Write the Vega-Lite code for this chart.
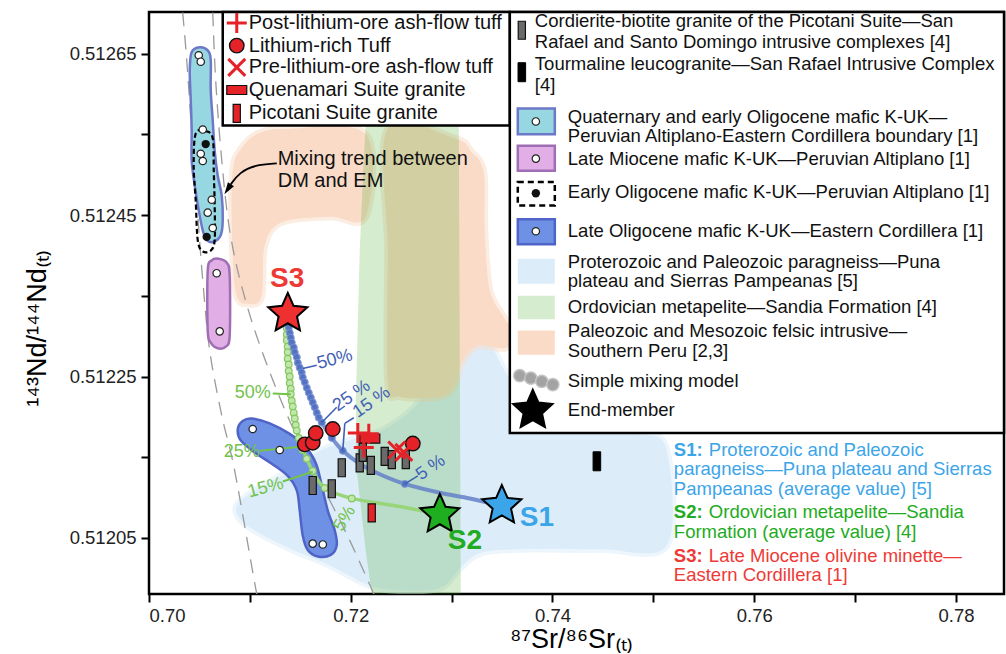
{
  "$schema": "https://vega.github.io/schema/vega-lite/v6.json",
  "width": 855,
  "height": 582,
  "autosize": {"type": "none"},
  "padding": {"left": 149, "top": 12, "right": 2, "bottom": 60},
  "background": "white",
  "config": {
    "font": "Liberation Sans",
    "view": {"stroke": "black", "strokeWidth": 2.5},
    "axis": {
      "domain": false, "grid": false, "ticks": true,
      "tickColor": "black", "tickWidth": 2, "tickSize": 8,
      "labelFont": "Liberation Sans", "labelFontSize": 18.5, "labelColor": "#222222", "labelOverlap": false,
      "titleFont": "Liberation Sans", "titleFontSize": 27, "titleFontWeight": "normal", "titleColor": "black"
    },
    "text": {"font": "Liberation Sans"}
  },
  "datasets": {
    "regions": [
      {"shape": "paragneiss", "i": 1, "x": 0.70870, "y": 0.512090},
      {"shape": "paragneiss", "i": 2, "x": 0.71048, "y": 0.512109},
      {"shape": "paragneiss", "i": 3, "x": 0.71395, "y": 0.512133},
      {"shape": "paragneiss", "i": 4, "x": 0.71693, "y": 0.512158},
      {"shape": "paragneiss", "i": 5, "x": 0.71990, "y": 0.512171},
      {"shape": "paragneiss", "i": 6, "x": 0.72337, "y": 0.512185},
      {"shape": "paragneiss", "i": 7, "x": 0.72684, "y": 0.512220},
      {"shape": "paragneiss", "i": 8, "x": 0.72883, "y": 0.512282},
      {"shape": "paragneiss", "i": 9, "x": 0.73101, "y": 0.512307},
      {"shape": "paragneiss", "i": 10, "x": 0.73329, "y": 0.512301},
      {"shape": "paragneiss", "i": 11, "x": 0.73527, "y": 0.512257},
      {"shape": "paragneiss", "i": 12, "x": 0.73775, "y": 0.512214},
      {"shape": "paragneiss", "i": 13, "x": 0.74270, "y": 0.512189},
      {"shape": "paragneiss", "i": 14, "x": 0.74866, "y": 0.512180},
      {"shape": "paragneiss", "i": 15, "x": 0.75134, "y": 0.512158},
      {"shape": "paragneiss", "i": 16, "x": 0.75134, "y": 0.512041},
      {"shape": "paragneiss", "i": 17, "x": 0.74469, "y": 0.512036},
      {"shape": "paragneiss", "i": 18, "x": 0.73676, "y": 0.512036},
      {"shape": "paragneiss", "i": 19, "x": 0.73280, "y": 0.512031},
      {"shape": "paragneiss", "i": 20, "x": 0.73081, "y": 0.512012},
      {"shape": "paragneiss", "i": 21, "x": 0.72883, "y": 0.511988},
      {"shape": "paragneiss", "i": 22, "x": 0.72486, "y": 0.511985},
      {"shape": "paragneiss", "i": 23, "x": 0.72189, "y": 0.511991},
      {"shape": "paragneiss", "i": 24, "x": 0.71792, "y": 0.512016},
      {"shape": "paragneiss", "i": 25, "x": 0.71395, "y": 0.512037},
      {"shape": "paragneiss", "i": 26, "x": 0.71048, "y": 0.512059},
      {"shape": "paragneiss", "i": 27, "x": 0.70899, "y": 0.512074},
      {"shape": "felsicWest", "i": 1, "x": 0.70899, "y": 0.512530},
      {"shape": "felsicWest", "i": 2, "x": 0.71078, "y": 0.512551},
      {"shape": "felsicWest", "i": 3, "x": 0.71395, "y": 0.512557},
      {"shape": "felsicWest", "i": 4, "x": 0.72149, "y": 0.512550},
      {"shape": "felsicWest", "i": 5, "x": 0.72149, "y": 0.512448},
      {"shape": "felsicWest", "i": 6, "x": 0.71792, "y": 0.512448},
      {"shape": "felsicWest", "i": 7, "x": 0.71316, "y": 0.512441},
      {"shape": "felsicWest", "i": 8, "x": 0.71147, "y": 0.512412},
      {"shape": "felsicWest", "i": 9, "x": 0.71118, "y": 0.512350},
      {"shape": "felsicWest", "i": 10, "x": 0.70999, "y": 0.512340},
      {"shape": "felsicWest", "i": 11, "x": 0.70860, "y": 0.512354},
      {"shape": "felsicWest", "i": 12, "x": 0.70820, "y": 0.512443},
      {"shape": "felsicWest", "i": 13, "x": 0.70830, "y": 0.512505},
      {"shape": "felsicEast", "i": 1, "x": 0.72367, "y": 0.512557},
      {"shape": "felsicEast", "i": 2, "x": 0.73032, "y": 0.512545},
      {"shape": "felsicEast", "i": 3, "x": 0.73200, "y": 0.512528},
      {"shape": "felsicEast", "i": 4, "x": 0.73319, "y": 0.512503},
      {"shape": "felsicEast", "i": 5, "x": 0.73329, "y": 0.512431},
      {"shape": "felsicEast", "i": 6, "x": 0.73379, "y": 0.512357},
      {"shape": "felsicEast", "i": 7, "x": 0.73527, "y": 0.512322},
      {"shape": "felsicEast", "i": 8, "x": 0.73627, "y": 0.512301},
      {"shape": "felsicEast", "i": 9, "x": 0.73527, "y": 0.512285},
      {"shape": "felsicEast", "i": 10, "x": 0.73260, "y": 0.512288},
      {"shape": "felsicEast", "i": 11, "x": 0.73101, "y": 0.512267},
      {"shape": "felsicEast", "i": 12, "x": 0.73032, "y": 0.512239},
      {"shape": "felsicEast", "i": 13, "x": 0.72883, "y": 0.512225},
      {"shape": "felsicEast", "i": 14, "x": 0.72486, "y": 0.512225},
      {"shape": "felsicEast", "i": 15, "x": 0.72367, "y": 0.512243},
      {"shape": "felsicEast", "i": 16, "x": 0.72367, "y": 0.512406},
      {"shape": "metapelite", "i": 1, "x": 0.72149, "y": 0.512565},
      {"shape": "metapelite", "i": 2, "x": 0.72208, "y": 0.512574},
      {"shape": "metapelite", "i": 3, "x": 0.73012, "y": 0.512574},
      {"shape": "metapelite", "i": 4, "x": 0.73071, "y": 0.512565},
      {"shape": "metapelite", "i": 5, "x": 0.73091, "y": 0.511972},
      {"shape": "metapelite", "i": 6, "x": 0.72218, "y": 0.511972},
      {"shape": "metapelite", "i": 7, "x": 0.72149, "y": 0.512034},
      {"shape": "metapelite", "i": 8, "x": 0.72060, "y": 0.512133},
      {"shape": "metapelite", "i": 9, "x": 0.72050, "y": 0.512220},
      {"shape": "metapelite", "i": 10, "x": 0.72089, "y": 0.512406},
      {"shape": "metapelite", "i": 11, "x": 0.72129, "y": 0.512518}
    ],
    "capsules": [
      {"shape": "quat", "i": 1, "x": 0.70503, "y": 0.512658},
      {"shape": "quat", "i": 2, "x": 0.70582, "y": 0.512654},
      {"shape": "quat", "i": 3, "x": 0.70612, "y": 0.512642},
      {"shape": "quat", "i": 4, "x": 0.70612, "y": 0.512605},
      {"shape": "quat", "i": 5, "x": 0.70632, "y": 0.512567},
      {"shape": "quat", "i": 6, "x": 0.70651, "y": 0.512530},
      {"shape": "quat", "i": 7, "x": 0.70681, "y": 0.512499},
      {"shape": "quat", "i": 8, "x": 0.70721, "y": 0.512474},
      {"shape": "quat", "i": 9, "x": 0.70731, "y": 0.512443},
      {"shape": "quat", "i": 10, "x": 0.70711, "y": 0.512425},
      {"shape": "quat", "i": 11, "x": 0.70642, "y": 0.512417},
      {"shape": "quat", "i": 12, "x": 0.70572, "y": 0.512419},
      {"shape": "quat", "i": 13, "x": 0.70533, "y": 0.512431},
      {"shape": "quat", "i": 14, "x": 0.70493, "y": 0.512456},
      {"shape": "quat", "i": 15, "x": 0.70453, "y": 0.512487},
      {"shape": "quat", "i": 16, "x": 0.70423, "y": 0.512518},
      {"shape": "quat", "i": 17, "x": 0.70423, "y": 0.512555},
      {"shape": "quat", "i": 18, "x": 0.70414, "y": 0.512592},
      {"shape": "quat", "i": 19, "x": 0.70404, "y": 0.512629},
      {"shape": "quat", "i": 20, "x": 0.70423, "y": 0.512652},
      {"shape": "miocene", "i": 1, "x": 0.70691, "y": 0.512396},
      {"shape": "miocene", "i": 2, "x": 0.70771, "y": 0.512391},
      {"shape": "miocene", "i": 3, "x": 0.70800, "y": 0.512375},
      {"shape": "miocene", "i": 4, "x": 0.70800, "y": 0.512301},
      {"shape": "miocene", "i": 5, "x": 0.70761, "y": 0.512287},
      {"shape": "miocene", "i": 6, "x": 0.70681, "y": 0.512285},
      {"shape": "miocene", "i": 7, "x": 0.70612, "y": 0.512292},
      {"shape": "miocene", "i": 8, "x": 0.70582, "y": 0.512307},
      {"shape": "miocene", "i": 9, "x": 0.70582, "y": 0.512381},
      {"shape": "miocene", "i": 10, "x": 0.70622, "y": 0.512394},
      {"shape": "oligoLate", "i": 1, "x": 0.70880, "y": 0.512185},
      {"shape": "oligoLate", "i": 2, "x": 0.70929, "y": 0.512195},
      {"shape": "oligoLate", "i": 3, "x": 0.71018, "y": 0.512198},
      {"shape": "oligoLate", "i": 4, "x": 0.71197, "y": 0.512192},
      {"shape": "oligoLate", "i": 5, "x": 0.71395, "y": 0.512179},
      {"shape": "oligoLate", "i": 6, "x": 0.71544, "y": 0.512164},
      {"shape": "oligoLate", "i": 7, "x": 0.71653, "y": 0.512143},
      {"shape": "oligoLate", "i": 8, "x": 0.71713, "y": 0.512115},
      {"shape": "oligoLate", "i": 9, "x": 0.71772, "y": 0.512084},
      {"shape": "oligoLate", "i": 10, "x": 0.71842, "y": 0.512059},
      {"shape": "oligoLate", "i": 11, "x": 0.71861, "y": 0.512041},
      {"shape": "oligoLate", "i": 12, "x": 0.71802, "y": 0.512029},
      {"shape": "oligoLate", "i": 13, "x": 0.71673, "y": 0.512027},
      {"shape": "oligoLate", "i": 14, "x": 0.71574, "y": 0.512035},
      {"shape": "oligoLate", "i": 15, "x": 0.71524, "y": 0.512053},
      {"shape": "oligoLate", "i": 16, "x": 0.71494, "y": 0.512084},
      {"shape": "oligoLate", "i": 17, "x": 0.71465, "y": 0.512109},
      {"shape": "oligoLate", "i": 18, "x": 0.71375, "y": 0.512127},
      {"shape": "oligoLate", "i": 19, "x": 0.71217, "y": 0.512142},
      {"shape": "oligoLate", "i": 20, "x": 0.71048, "y": 0.512156},
      {"shape": "oligoLate", "i": 21, "x": 0.70909, "y": 0.512171},
      {"shape": "oligoEarly", "i": 1, "x": 0.70463, "y": 0.512551},
      {"shape": "oligoEarly", "i": 2, "x": 0.70562, "y": 0.512554},
      {"shape": "oligoEarly", "i": 3, "x": 0.70632, "y": 0.512545},
      {"shape": "oligoEarly", "i": 4, "x": 0.70642, "y": 0.512505},
      {"shape": "oligoEarly", "i": 5, "x": 0.70651, "y": 0.512462},
      {"shape": "oligoEarly", "i": 6, "x": 0.70651, "y": 0.512419},
      {"shape": "oligoEarly", "i": 7, "x": 0.70612, "y": 0.512406},
      {"shape": "oligoEarly", "i": 8, "x": 0.70533, "y": 0.512405},
      {"shape": "oligoEarly", "i": 9, "x": 0.70483, "y": 0.512419},
      {"shape": "oligoEarly", "i": 10, "x": 0.70463, "y": 0.512468},
      {"shape": "oligoEarly", "i": 11, "x": 0.70443, "y": 0.512511}
    ],
    "lines": [
      {"shape": "trend1", "i": 1, "x": 0.70334, "y": 0.512701},
      {"shape": "trend1", "i": 2, "x": 0.70374, "y": 0.512642},
      {"shape": "trend1", "i": 3, "x": 0.70423, "y": 0.512555},
      {"shape": "trend1", "i": 4, "x": 0.70473, "y": 0.512468},
      {"shape": "trend1", "i": 5, "x": 0.70533, "y": 0.512369},
      {"shape": "trend1", "i": 6, "x": 0.70602, "y": 0.512282},
      {"shape": "trend1", "i": 7, "x": 0.70721, "y": 0.512202},
      {"shape": "trend1", "i": 8, "x": 0.70850, "y": 0.512133},
      {"shape": "trend1", "i": 9, "x": 0.71048, "y": 0.511994},
      {"shape": "trend1", "i": 10, "x": 0.71078, "y": 0.511978},
      {"shape": "trend2", "i": 1, "x": 0.70632, "y": 0.512701},
      {"shape": "trend2", "i": 2, "x": 0.70661, "y": 0.512617},
      {"shape": "trend2", "i": 3, "x": 0.70721, "y": 0.512518},
      {"shape": "trend2", "i": 4, "x": 0.70800, "y": 0.512431},
      {"shape": "trend2", "i": 5, "x": 0.70929, "y": 0.512357},
      {"shape": "trend2", "i": 6, "x": 0.71118, "y": 0.512282},
      {"shape": "trend2", "i": 7, "x": 0.71395, "y": 0.512195},
      {"shape": "trend2", "i": 8, "x": 0.71693, "y": 0.512121},
      {"shape": "trend2", "i": 9, "x": 0.71990, "y": 0.512047},
      {"shape": "trend2", "i": 10, "x": 0.72238, "y": 0.511978},
      {"shape": "arrow", "i": 1, "x": 0.71267, "y": 0.512514},
      {"shape": "arrow", "i": 2, "x": 0.71048, "y": 0.512512},
      {"shape": "arrow", "i": 3, "x": 0.70899, "y": 0.512503},
      {"shape": "arrow", "i": 4, "x": 0.70810, "y": 0.512488},
      {"shape": "S3-S1", "i": 1, "x": 0.71375, "y": 0.512328},
      {"shape": "S3-S1", "i": 2, "x": 0.71435, "y": 0.512286},
      {"shape": "S3-S1", "i": 3, "x": 0.71494, "y": 0.512261},
      {"shape": "S3-S1", "i": 4, "x": 0.71564, "y": 0.512236},
      {"shape": "S3-S1", "i": 5, "x": 0.71623, "y": 0.512218},
      {"shape": "S3-S1", "i": 6, "x": 0.71713, "y": 0.512193},
      {"shape": "S3-S1", "i": 7, "x": 0.71812, "y": 0.512174},
      {"shape": "S3-S1", "i": 8, "x": 0.71921, "y": 0.512158},
      {"shape": "S3-S1", "i": 9, "x": 0.72089, "y": 0.512142},
      {"shape": "S3-S1", "i": 10, "x": 0.72288, "y": 0.512129},
      {"shape": "S3-S1", "i": 11, "x": 0.72536, "y": 0.512117},
      {"shape": "S3-S1", "i": 12, "x": 0.72883, "y": 0.512106},
      {"shape": "S3-S1", "i": 13, "x": 0.73180, "y": 0.512099},
      {"shape": "S3-S1", "i": 14, "x": 0.73498, "y": 0.512090},
      {"shape": "S3-S2", "i": 1, "x": 0.71375, "y": 0.512326},
      {"shape": "S3-S2", "i": 2, "x": 0.71366, "y": 0.512307},
      {"shape": "S3-S2", "i": 3, "x": 0.71375, "y": 0.512280},
      {"shape": "S3-S2", "i": 4, "x": 0.71395, "y": 0.512250},
      {"shape": "S3-S2", "i": 5, "x": 0.71415, "y": 0.512220},
      {"shape": "S3-S2", "i": 6, "x": 0.71445, "y": 0.512198},
      {"shape": "S3-S2", "i": 7, "x": 0.71465, "y": 0.512183},
      {"shape": "S3-S2", "i": 8, "x": 0.71504, "y": 0.512167},
      {"shape": "S3-S2", "i": 9, "x": 0.71564, "y": 0.512148},
      {"shape": "S3-S2", "i": 10, "x": 0.71623, "y": 0.512133},
      {"shape": "S3-S2", "i": 11, "x": 0.71742, "y": 0.512112},
      {"shape": "S3-S2", "i": 12, "x": 0.72010, "y": 0.512099},
      {"shape": "S3-S2", "i": 13, "x": 0.72486, "y": 0.512089},
      {"shape": "S3-S2", "i": 14, "x": 0.72883, "y": 0.512079}
    ],
    "mixdots": [
      {"model": "S3-S1", "x": 0.71375, "y": 0.512317},
      {"model": "S3-S1", "x": 0.71385, "y": 0.512311},
      {"model": "S3-S1", "x": 0.71395, "y": 0.512304},
      {"model": "S3-S1", "x": 0.71405, "y": 0.512298},
      {"model": "S3-S1", "x": 0.71415, "y": 0.512292},
      {"model": "S3-S1", "x": 0.71435, "y": 0.512286},
      {"model": "S3-S1", "x": 0.71445, "y": 0.512280},
      {"model": "S3-S1", "x": 0.71465, "y": 0.512274},
      {"model": "S3-S1", "x": 0.71475, "y": 0.512267},
      {"model": "S3-S1", "x": 0.71494, "y": 0.512261},
      {"model": "S3-S1", "x": 0.71514, "y": 0.512255},
      {"model": "S3-S1", "x": 0.71524, "y": 0.512249},
      {"model": "S3-S1", "x": 0.71544, "y": 0.512243},
      {"model": "S3-S1", "x": 0.71564, "y": 0.512236},
      {"model": "S3-S1", "x": 0.71584, "y": 0.512230},
      {"model": "S3-S1", "x": 0.71604, "y": 0.512224},
      {"model": "S3-S1", "x": 0.71623, "y": 0.512218},
      {"model": "S3-S1", "x": 0.71643, "y": 0.512212},
      {"model": "S3-S1", "x": 0.71663, "y": 0.512205},
      {"model": "S3-S1", "x": 0.71683, "y": 0.512199},
      {"model": "S3-S1", "x": 0.71713, "y": 0.512193},
      {"model": "S3-S1", "x": 0.71812, "y": 0.512174},
      {"model": "S3-S1", "x": 0.71921, "y": 0.512158},
      {"model": "S3-S1", "x": 0.72536, "y": 0.512117},
      {"model": "S3-S2", "x": 0.71366, "y": 0.512317},
      {"model": "S3-S2", "x": 0.71366, "y": 0.512310},
      {"model": "S3-S2", "x": 0.71366, "y": 0.512302},
      {"model": "S3-S2", "x": 0.71366, "y": 0.512295},
      {"model": "S3-S2", "x": 0.71375, "y": 0.512287},
      {"model": "S3-S2", "x": 0.71375, "y": 0.512280},
      {"model": "S3-S2", "x": 0.71375, "y": 0.512272},
      {"model": "S3-S2", "x": 0.71385, "y": 0.512265},
      {"model": "S3-S2", "x": 0.71385, "y": 0.512257},
      {"model": "S3-S2", "x": 0.71395, "y": 0.512250},
      {"model": "S3-S2", "x": 0.71395, "y": 0.512242},
      {"model": "S3-S2", "x": 0.71405, "y": 0.512235},
      {"model": "S3-S2", "x": 0.71405, "y": 0.512228},
      {"model": "S3-S2", "x": 0.71415, "y": 0.512220},
      {"model": "S3-S2", "x": 0.71425, "y": 0.512213},
      {"model": "S3-S2", "x": 0.71435, "y": 0.512205},
      {"model": "S3-S2", "x": 0.71445, "y": 0.512198},
      {"model": "S3-S2", "x": 0.71455, "y": 0.512190},
      {"model": "S3-S2", "x": 0.71465, "y": 0.512183},
      {"model": "S3-S2", "x": 0.71485, "y": 0.512174},
      {"model": "S3-S2", "x": 0.71504, "y": 0.512167},
      {"model": "S3-S2", "x": 0.71524, "y": 0.512159},
      {"model": "S3-S2", "x": 0.71564, "y": 0.512148},
      {"model": "S3-S2", "x": 0.71623, "y": 0.512133},
      {"model": "S3-S2", "x": 0.71742, "y": 0.512112},
      {"model": "S3-S2", "x": 0.72010, "y": 0.512099},
      {"model": "key", "x": 0.73676, "y": 0.512251},
      {"model": "key", "x": 0.73785, "y": 0.512248},
      {"model": "key", "x": 0.73894, "y": 0.512244},
      {"model": "key", "x": 0.74003, "y": 0.512240}
    ],
    "points": [
      {"group": "kukOpen", "x": 0.70493, "y": 0.512648},
      {"group": "kukOpen", "x": 0.70513, "y": 0.512640},
      {"group": "kukOpen", "x": 0.70533, "y": 0.512556},
      {"group": "kukOpen", "x": 0.70513, "y": 0.512526},
      {"group": "kukOpen", "x": 0.70533, "y": 0.512517},
      {"group": "kukOpen", "x": 0.70622, "y": 0.512469},
      {"group": "kukOpen", "x": 0.70582, "y": 0.512453},
      {"group": "kukOpen", "x": 0.70632, "y": 0.512434},
      {"group": "kukOpen", "x": 0.70671, "y": 0.512378},
      {"group": "kukOpen", "x": 0.70701, "y": 0.512306},
      {"group": "kukOpen", "x": 0.71028, "y": 0.512185},
      {"group": "kukOpen", "x": 0.71296, "y": 0.512159},
      {"group": "kukOpen", "x": 0.71623, "y": 0.512043},
      {"group": "kukOpen", "x": 0.71723, "y": 0.512042},
      {"group": "kukOpen", "x": 0.73835, "y": 0.512566},
      {"group": "kukOpen", "x": 0.73835, "y": 0.512520},
      {"group": "kukOpen", "x": 0.73835, "y": 0.512430},
      {"group": "kukSolid", "x": 0.70562, "y": 0.512538},
      {"group": "kukSolid", "x": 0.70572, "y": 0.512423},
      {"group": "kukSolid", "x": 0.73835, "y": 0.512477},
      {"group": "cordierite", "x": 0.71623, "y": 0.512115},
      {"group": "cordierite", "x": 0.71812, "y": 0.512111},
      {"group": "cordierite", "x": 0.71911, "y": 0.512137},
      {"group": "cordierite", "x": 0.72089, "y": 0.512143},
      {"group": "cordierite", "x": 0.72119, "y": 0.512156},
      {"group": "cordierite", "x": 0.72199, "y": 0.512140},
      {"group": "cordierite", "x": 0.72337, "y": 0.512151},
      {"group": "cordierite", "x": 0.72407, "y": 0.512147},
      {"group": "cordierite", "x": 0.72546, "y": 0.512147},
      {"group": "cordierite", "x": 0.73696, "y": 0.512679},
      {"group": "tourmaline", "x": 0.74440, "y": 0.512145},
      {"group": "tourmaline", "x": 0.73696, "y": 0.512627},
      {"group": "picotani", "x": 0.72208, "y": 0.512081},
      {"group": "picotani", "x": 0.70870, "y": 0.512576},
      {"group": "quenamari", "x": 0.72189, "y": 0.512173},
      {"group": "quenamari", "x": 0.70870, "y": 0.512605},
      {"group": "liTuff", "x": 0.71544, "y": 0.512166},
      {"group": "liTuff", "x": 0.71623, "y": 0.512168},
      {"group": "liTuff", "x": 0.71653, "y": 0.512180},
      {"group": "liTuff", "x": 0.71822, "y": 0.512185},
      {"group": "liTuff", "x": 0.72615, "y": 0.512167},
      {"group": "liTuff", "x": 0.70870, "y": 0.512660},
      {"group": "postOre", "x": 0.72070, "y": 0.512180},
      {"group": "postOre", "x": 0.72179, "y": 0.512179},
      {"group": "postOre", "x": 0.72129, "y": 0.512162},
      {"group": "postOre", "x": 0.70870, "y": 0.512688},
      {"group": "preOre", "x": 0.72456, "y": 0.512159},
      {"group": "preOre", "x": 0.72526, "y": 0.512156},
      {"group": "preOre", "x": 0.70870, "y": 0.512633}
    ],
    "stars": [
      {"name": "S3", "x": 0.71376, "y": 0.512328},
      {"name": "S2", "x": 0.72883, "y": 0.512079},
      {"name": "S1", "x": 0.73498, "y": 0.512090},
      {"name": "key", "x": 0.73805, "y": 0.512208}
    ],
    "tags": [
      {"src": "S3", "x": 0.71370, "y": 0.512371, "t": "S3"},
      {"src": "S2", "x": 0.73131, "y": 0.512046, "t": "S2"},
      {"src": "S1", "x": 0.73845, "y": 0.512075, "t": "S1"}
    ],
    "pct": [
      {"set": "blueA", "x": 0.71842, "y": 0.512271, "t": "50%"},
      {"set": "blueB", "x": 0.72010, "y": 0.512226, "t": "25 %"},
      {"set": "blueB", "x": 0.72208, "y": 0.512218, "t": "15 %"},
      {"set": "blueB", "x": 0.72794, "y": 0.512137, "t": "5 %"},
      {"set": "greenA", "x": 0.71028, "y": 0.512229, "t": "50%"},
      {"set": "greenA", "x": 0.70919, "y": 0.512157, "t": "25%"},
      {"set": "greenB", "x": 0.71157, "y": 0.512112, "t": "15%"},
      {"set": "greenC", "x": 0.71941, "y": 0.512074, "t": "5%"}
    ],
    "leaders": [
      {"model": "S3-S1", "x": 0.71524, "y": 0.512260, "x2": 0.71663, "y2": 0.512264},
      {"model": "S3-S1", "x": 0.71713, "y": 0.512193, "x2": 0.71861, "y2": 0.512212},
      {"model": "S3-S1", "x": 0.71921, "y": 0.512158, "x2": 0.71941, "y2": 0.512192},
      {"model": "S3-S1", "x": 0.71941, "y": 0.512192, "x2": 0.72030, "y2": 0.512199},
      {"model": "S3-S1", "x": 0.72536, "y": 0.512117, "x2": 0.72665, "y2": 0.512127},
      {"model": "S3-S2", "x": 0.71227, "y": 0.512229, "x2": 0.71405, "y2": 0.512228},
      {"model": "S3-S2", "x": 0.71098, "y": 0.512158, "x2": 0.71504, "y2": 0.512163},
      {"model": "S3-S2", "x": 0.71326, "y": 0.512120, "x2": 0.71623, "y2": 0.512132}
    ],
    "boxes": [
      {"x": 0.70731, "x2": 0.73577, "y": 0.512561, "y2": 0.5127016},
      {"x": 0.73577, "x2": 0.78476, "y": 0.512180, "y2": 0.5127016}
    ],
    "keys": [
      {"unit": "quat", "x": 0.73656, "x2": 0.74023, "y": 0.512550, "y2": 0.512582},
      {"unit": "miocene", "x": 0.73656, "x2": 0.74023, "y": 0.512505, "y2": 0.512536},
      {"unit": "oligoEarly", "x": 0.73656, "x2": 0.74023, "y": 0.512462, "y2": 0.512491},
      {"unit": "oligoLate", "x": 0.73656, "x2": 0.74023, "y": 0.512414, "y2": 0.512445},
      {"unit": "paragneiss", "x": 0.73656, "x2": 0.74023, "y": 0.512365, "y2": 0.512396},
      {"unit": "metapelite", "x": 0.73656, "x2": 0.74023, "y": 0.512321, "y2": 0.512350},
      {"unit": "felsic", "x": 0.73656, "x2": 0.74023, "y": 0.512277, "y2": 0.512307}
    ],
    "texts": [
      {"kind": "left", "x": 0.70989, "y": 0.512688, "t": "Post-lithium-ore ash-flow tuff"},
      {"kind": "left", "x": 0.70989, "y": 0.512660, "t": "Lithium-rich Tuff"},
      {"kind": "left", "x": 0.70989, "y": 0.512633, "t": "Pre-lithium-ore ash-flow tuff"},
      {"kind": "left", "x": 0.70989, "y": 0.512605, "t": "Quenamari Suite granite"},
      {"kind": "left", "x": 0.70989, "y": 0.512576, "t": "Picotani Suite granite"},
      {"kind": "left", "x": 0.71276, "y": 0.512519, "t": "Mixing trend between"},
      {"kind": "left", "x": 0.71276, "y": 0.512492, "t": "DM and EM"},
      {"kind": "right", "x": 0.73825, "y": 0.512691, "t": "Cordierite-biotite granite of the Picotani Suite—San"},
      {"kind": "right", "x": 0.73825, "y": 0.512665, "t": "Rafael and Santo Domingo intrusive complexes [4]"},
      {"kind": "right", "x": 0.73825, "y": 0.512637, "t": "Tourmaline leucogranite—San Rafael Intrusive Complex"},
      {"kind": "right", "x": 0.73825, "y": 0.512611, "t": "[4]"},
      {"kind": "right", "x": 0.74152, "y": 0.512572, "t": "Quaternary and early Oligocene mafic K-UK—"},
      {"kind": "right", "x": 0.74152, "y": 0.512548, "t": "Peruvian Altiplano-Eastern Cordillera boundary [1]"},
      {"kind": "right", "x": 0.74152, "y": 0.512520, "t": "Late Miocene mafic K-UK—Peruvian Altiplano [1]"},
      {"kind": "right", "x": 0.74152, "y": 0.512478, "t": "Early Oligocene mafic K-UK—Peruvian Altiplano [1]"},
      {"kind": "right", "x": 0.74152, "y": 0.512430, "t": "Late Oligocene mafic K-UK—Eastern Cordillera [1]"},
      {"kind": "right", "x": 0.74152, "y": 0.512392, "t": "Proterozoic and Paleozoic paragneiss—Puna"},
      {"kind": "right", "x": 0.74152, "y": 0.512368, "t": "plateau and Sierras Pampeanas [5]"},
      {"kind": "right", "x": 0.74152, "y": 0.512336, "t": "Ordovician metapelite—Sandia Formation [4]"},
      {"kind": "right", "x": 0.74152, "y": 0.512306, "t": "Paleozoic and Mesozoic felsic intrusive—"},
      {"kind": "right", "x": 0.74152, "y": 0.512282, "t": "Southern Peru [2,3]"},
      {"kind": "right", "x": 0.74152, "y": 0.512245, "t": "Simple mixing model"},
      {"kind": "right", "x": 0.74152, "y": 0.512209, "t": "End-member"}
    ],
    "notes": [
      {"kind": "head", "src": "S1", "x": 0.75203, "y": 0.512159, "t": "S1:"},
      {"kind": "body", "src": "S1", "x": 0.75550, "y": 0.512159, "t": "Proterozoic and Paleozoic"},
      {"kind": "body", "src": "S1", "x": 0.75203, "y": 0.512135, "t": "paragneiss—Puna plateau and Sierras"},
      {"kind": "body", "src": "S1", "x": 0.75203, "y": 0.512111, "t": "Pampeanas (average value) [5]"},
      {"kind": "head", "src": "S2", "x": 0.75203, "y": 0.512082, "t": "S2:"},
      {"kind": "body", "src": "S2", "x": 0.75550, "y": 0.512082, "t": "Ordovician metapelite—Sandia"},
      {"kind": "body", "src": "S2", "x": 0.75203, "y": 0.512058, "t": "Formation (average value) [4]"},
      {"kind": "head", "src": "S3", "x": 0.75203, "y": 0.512028, "t": "S3:"},
      {"kind": "body", "src": "S3", "x": 0.75550, "y": 0.512028, "t": "Late Miocene olivine minette—"},
      {"kind": "body", "src": "S3", "x": 0.75203, "y": 0.512004, "t": "Eastern Cordillera [1]"}
    ]
  },
  "encoding": {
    "x": {
      "field": "x", "type": "quantitative",
      "scale": {"domain": [0.70, 0.78476], "nice": false, "zero": false},
      "axis": {
        "values": [0.70, 0.71, 0.72, 0.73, 0.74, 0.75, 0.76, 0.77, 0.78],
        "labelExpr": "round(datum.value * 100) % 2 == 0 ? format(datum.value, '.2f') : ''",
        "labelPadding": 4,
        "title": "⁸⁷Sr/⁸⁶Sr₍ₜ₎",
        "titleX": 422, "titleY": 53, "titleBaseline": "alphabetic", "titleAlign": "center"
      }
    },
    "y": {
      "field": "y", "type": "quantitative",
      "scale": {"domain": [0.5119806, 0.5127016], "nice": false, "zero": false},
      "axis": {
        "values": [0.51205, 0.51215, 0.51225, 0.51235, 0.51245, 0.51255, 0.51265],
        "labelExpr": "round(datum.value * 100000) % 20 == 5 ? format(datum.value, '.5f') : ''",
        "labelPadding": 5,
        "title": "¹⁴³Nd/¹⁴⁴Nd₍ₜ₎",
        "titleX": -104, "titleY": 316, "titleAngle": 270, "titleBaseline": "alphabetic", "titleAlign": "center"
      }
    }
  },
  "layer": [
    {
      "data": {"name": "regions"},
      "transform": [{"filter": "datum.shape == 'paragneiss'"}],
      "mark": {"type": "line", "interpolate": "cardinal-closed", "fill": "#dcedf9", "stroke": "#dcedf9", "strokeWidth": 7, "strokeOpacity": 0.5, "clip": true},
      "encoding": {"order": {"field": "i", "type": "quantitative"}}
    },
    {
      "data": {"name": "regions"},
      "transform": [{"filter": "datum.shape == 'felsicWest' || datum.shape == 'felsicEast'"}],
      "mark": {"type": "line", "interpolate": "cardinal-closed", "fill": "#fadbc8", "stroke": "#fadbc8", "strokeWidth": 7, "strokeOpacity": 0.5, "clip": true},
      "encoding": {"order": {"field": "i", "type": "quantitative"}, "detail": {"field": "shape"}}
    },
    {
      "data": {"name": "regions"},
      "transform": [{"filter": "datum.shape == 'metapelite'"}],
      "mark": {"type": "line", "interpolate": "linear-closed", "fill": "#32a00a", "fillOpacity": 0.2, "strokeOpacity": 0, "clip": true},
      "encoding": {"order": {"field": "i", "type": "quantitative"}}
    },
    {
      "data": {"name": "lines"},
      "transform": [{"filter": "datum.shape == 'trend1' || datum.shape == 'trend2'"}],
      "mark": {"type": "line", "interpolate": "cardinal", "stroke": "#9a9a9a", "strokeWidth": 1.3, "strokeDash": [14, 9], "clip": true},
      "encoding": {"order": {"field": "i", "type": "quantitative"}, "detail": {"field": "shape"}}
    },
    {
      "data": {"name": "boxes"},
      "mark": {"type": "rect", "fill": "white", "stroke": "black", "strokeWidth": 2.5},
      "encoding": {"x2": {"field": "x2"}, "y2": {"field": "y2"}}
    },
    {
      "data": {"name": "keys"},
      "transform": [{"filter": "datum.unit == 'quat'"}],
      "mark": {"type": "rect", "fill": "#96d7e1", "stroke": "#6e78c8", "strokeWidth": 2.5},
      "encoding": {"x2": {"field": "x2"}, "y2": {"field": "y2"}}
    },
    {
      "data": {"name": "keys"},
      "transform": [{"filter": "datum.unit == 'miocene'"}],
      "mark": {"type": "rect", "fill": "#e1afe6", "stroke": "#a06eb4", "strokeWidth": 2.5},
      "encoding": {"x2": {"field": "x2"}, "y2": {"field": "y2"}}
    },
    {
      "data": {"name": "keys"},
      "transform": [{"filter": "datum.unit == 'oligoEarly'"}],
      "mark": {"type": "rect", "fill": "white", "stroke": "black", "strokeWidth": 2.5, "strokeDash": [6, 4]},
      "encoding": {"x2": {"field": "x2"}, "y2": {"field": "y2"}}
    },
    {
      "data": {"name": "keys"},
      "transform": [{"filter": "datum.unit == 'oligoLate'"}],
      "mark": {"type": "rect", "fill": "#6e91e6", "stroke": "#5064c8", "strokeWidth": 2.5},
      "encoding": {"x2": {"field": "x2"}, "y2": {"field": "y2"}}
    },
    {
      "data": {"name": "keys"},
      "transform": [{"filter": "datum.unit == 'paragneiss'"}],
      "mark": {"type": "rect", "fill": "#dcedf9"},
      "encoding": {"x2": {"field": "x2"}, "y2": {"field": "y2"}}
    },
    {
      "data": {"name": "keys"},
      "transform": [{"filter": "datum.unit == 'metapelite'"}],
      "mark": {"type": "rect", "fill": "#d6ecce"},
      "encoding": {"x2": {"field": "x2"}, "y2": {"field": "y2"}}
    },
    {
      "data": {"name": "keys"},
      "transform": [{"filter": "datum.unit == 'felsic'"}],
      "mark": {"type": "rect", "fill": "#fadbc8"},
      "encoding": {"x2": {"field": "x2"}, "y2": {"field": "y2"}}
    },
    {
      "data": {"name": "capsules"},
      "transform": [{"filter": "datum.shape == 'quat'"}],
      "mark": {"type": "line", "interpolate": "cardinal-closed", "fill": "#96d7e1", "stroke": "#6e78c8", "strokeWidth": 2.5},
      "encoding": {"order": {"field": "i", "type": "quantitative"}}
    },
    {
      "data": {"name": "capsules"},
      "transform": [{"filter": "datum.shape == 'miocene'"}],
      "mark": {"type": "line", "interpolate": "cardinal-closed", "fill": "#e1afe6", "stroke": "#a06eb4", "strokeWidth": 2.5},
      "encoding": {"order": {"field": "i", "type": "quantitative"}}
    },
    {
      "data": {"name": "capsules"},
      "transform": [{"filter": "datum.shape == 'oligoLate'"}],
      "mark": {"type": "line", "interpolate": "cardinal-closed", "fill": "#6e91e6", "stroke": "#5064c8", "strokeWidth": 2.5},
      "encoding": {"order": {"field": "i", "type": "quantitative"}}
    },
    {
      "data": {"name": "capsules"},
      "transform": [{"filter": "datum.shape == 'oligoEarly'"}],
      "mark": {"type": "line", "interpolate": "cardinal-closed", "stroke": "black", "strokeWidth": 2.2, "strokeDash": [5, 3]},
      "encoding": {"order": {"field": "i", "type": "quantitative"}}
    },
    {
      "data": {"name": "lines"},
      "transform": [{"filter": "datum.shape == 'S3-S2'"}],
      "mark": {"type": "line", "interpolate": "cardinal", "stroke": "#98d478", "strokeWidth": 3.5},
      "encoding": {"order": {"field": "i", "type": "quantitative"}}
    },
    {
      "data": {"name": "lines"},
      "transform": [{"filter": "datum.shape == 'S3-S1'"}],
      "mark": {"type": "line", "interpolate": "cardinal", "stroke": "#6480c8", "strokeWidth": 4, "opacity": 0.85},
      "encoding": {"order": {"field": "i", "type": "quantitative"}}
    },
    {
      "data": {"name": "mixdots"},
      "transform": [{"filter": "datum.model == 'S3-S2'"}],
      "mark": {"type": "point", "shape": "circle", "filled": true, "fill": "#c2e6ac", "stroke": "#84c860", "strokeWidth": 1.2, "size": 45, "opacity": 1},
      "encoding": {}
    },
    {
      "data": {"name": "mixdots"},
      "transform": [{"filter": "datum.model == 'S3-S1'"}],
      "mark": {"type": "point", "shape": "circle", "filled": true, "fill": "#4f6fc2", "stroke": "#7b93d3", "strokeWidth": 1, "size": 50, "opacity": 0.9},
      "encoding": {}
    },
    {
      "data": {"name": "mixdots"},
      "transform": [{"filter": "datum.model == 'key'"}],
      "mark": {"type": "point", "shape": "circle", "filled": true, "fill": "#a3a3a3", "stroke": "#c4c4c4", "strokeWidth": 1.5, "size": 150, "opacity": 1},
      "encoding": {}
    },
    {
      "data": {"name": "leaders"},
      "transform": [{"filter": "datum.model == 'S3-S1'"}],
      "mark": {"type": "rule", "stroke": "#3f60b5", "strokeWidth": 1.6},
      "encoding": {"x2": {"field": "x2"}, "y2": {"field": "y2"}}
    },
    {
      "data": {"name": "leaders"},
      "transform": [{"filter": "datum.model == 'S3-S2'"}],
      "mark": {"type": "rule", "stroke": "#72c24c", "strokeWidth": 2},
      "encoding": {"x2": {"field": "x2"}, "y2": {"field": "y2"}}
    },
    {
      "data": {"name": "pct"},
      "transform": [{"filter": "datum.set == 'blueA'"}],
      "mark": {"type": "text", "fontSize": 18, "fill": "#3f60b5", "angle": 345, "align": "center", "baseline": "middle"},
      "encoding": {"text": {"field": "t"}}
    },
    {
      "data": {"name": "pct"},
      "transform": [{"filter": "datum.set == 'blueB'"}],
      "mark": {"type": "text", "fontSize": 18, "fill": "#3f60b5", "angle": 325, "align": "center", "baseline": "middle"},
      "encoding": {"text": {"field": "t"}}
    },
    {
      "data": {"name": "pct"},
      "transform": [{"filter": "datum.set == 'greenA'"}],
      "mark": {"type": "text", "fontSize": 18, "fill": "#72c24c", "align": "center", "baseline": "middle"},
      "encoding": {"text": {"field": "t"}}
    },
    {
      "data": {"name": "pct"},
      "transform": [{"filter": "datum.set == 'greenB'"}],
      "mark": {"type": "text", "fontSize": 18, "fill": "#72c24c", "angle": 345, "align": "center", "baseline": "middle"},
      "encoding": {"text": {"field": "t"}}
    },
    {
      "data": {"name": "pct"},
      "transform": [{"filter": "datum.set == 'greenC'"}],
      "mark": {"type": "text", "fontSize": 18, "fill": "#72c24c", "angle": 300, "align": "center", "baseline": "middle"},
      "encoding": {"text": {"field": "t"}}
    },
    {
      "data": {"name": "points"},
      "transform": [{"filter": "datum.group == 'kukOpen'"}],
      "mark": {"type": "point", "shape": "circle", "filled": true, "fill": "white", "stroke": "#222222", "strokeWidth": 1.2, "size": 55, "opacity": 1},
      "encoding": {}
    },
    {
      "data": {"name": "points"},
      "transform": [{"filter": "datum.group == 'kukSolid'"}],
      "mark": {"type": "point", "shape": "circle", "filled": true, "fill": "#111111", "strokeOpacity": 0, "size": 70, "opacity": 1},
      "encoding": {}
    },
    {
      "data": {"name": "points"},
      "transform": [{"filter": "datum.group == 'cordierite'"}],
      "mark": {"type": "point", "shape": "M-0.4,-1H0.4V1H-0.4Z", "filled": true, "fill": "#6a6a6a", "stroke": "#111111", "strokeWidth": 1.2, "size": 324, "opacity": 1},
      "encoding": {}
    },
    {
      "data": {"name": "points"},
      "transform": [{"filter": "datum.group == 'tourmaline'"}],
      "mark": {"type": "point", "shape": "M-0.4,-1H0.4V1H-0.4Z", "filled": true, "fill": "#000000", "stroke": "#000000", "strokeWidth": 1, "size": 361, "opacity": 1},
      "encoding": {}
    },
    {
      "data": {"name": "points"},
      "transform": [{"filter": "datum.group == 'picotani'"}],
      "mark": {"type": "point", "shape": "M-0.4,-1H0.4V1H-0.4Z", "filled": true, "fill": "#e62229", "stroke": "#111111", "strokeWidth": 1.2, "size": 324, "opacity": 1},
      "encoding": {}
    },
    {
      "data": {"name": "points"},
      "transform": [{"filter": "datum.group == 'quenamari'"}],
      "mark": {"type": "point", "shape": "M-1,-0.45H1V0.45H-1Z", "filled": true, "fill": "#e62229", "stroke": "#111111", "strokeWidth": 1.2, "size": 400, "opacity": 1},
      "encoding": {}
    },
    {
      "data": {"name": "points"},
      "transform": [{"filter": "datum.group == 'liTuff'"}],
      "mark": {"type": "point", "shape": "circle", "filled": true, "fill": "#e62229", "stroke": "#111111", "strokeWidth": 1.4, "size": 210, "opacity": 1},
      "encoding": {}
    },
    {
      "data": {"name": "points"},
      "transform": [{"filter": "datum.group == 'postOre'"}],
      "mark": {"type": "point", "shape": "M-1,0H1M0,-1V1", "filled": false, "stroke": "#e62229", "strokeWidth": 3, "size": 400, "opacity": 1},
      "encoding": {}
    },
    {
      "data": {"name": "points"},
      "transform": [{"filter": "datum.group == 'preOre'"}],
      "mark": {"type": "point", "shape": "M-1,-1L1,1M-1,1L1,-1", "filled": false, "stroke": "#e62229", "strokeWidth": 3, "size": 289, "opacity": 1},
      "encoding": {}
    },
    {
      "data": {"name": "stars"},
      "mark": {"type": "point", "shape": "M0,-1L0.276,-0.38L0.951,-0.309L0.447,0.145L0.588,0.809L0,0.47L-0.588,0.809L-0.447,0.145L-0.951,-0.309L-0.276,-0.38Z", "filled": true, "stroke": "black", "strokeWidth": 2, "size": 1700, "opacity": 1},
      "encoding": {
        "fill": {"field": "name", "type": "nominal", "legend": null,
                 "scale": {"domain": ["S1", "S2", "S3", "key"], "range": ["#3ca5ea", "#1fae1f", "#ee3030", "#000000"]}}
      }
    },
    {
      "data": {"name": "tags"},
      "mark": {"type": "text", "fontSize": 28, "fontWeight": "bold", "align": "center", "baseline": "middle"},
      "encoding": {
        "text": {"field": "t"},
        "color": {"field": "src", "type": "nominal", "legend": null,
                  "scale": {"domain": ["S1", "S2", "S3"], "range": ["#3ca5ea", "#22ab22", "#ee3a36"]}}
      }
    },
    {
      "data": {"name": "lines"},
      "transform": [{"filter": "datum.shape == 'arrow'"}],
      "mark": {"type": "line", "interpolate": "basis", "stroke": "black", "strokeWidth": 1.8},
      "encoding": {"order": {"field": "i", "type": "quantitative"}}
    },
    {
      "data": {"values": [{"x": 0.70780, "y": 0.512482}]},
      "mark": {"type": "point", "shape": "M0,-1L0.6,1L-0.6,1Z", "angle": 213, "filled": true, "fill": "black", "strokeOpacity": 0, "size": 144, "opacity": 1},
      "encoding": {}
    },
    {
      "data": {"name": "texts"},
      "transform": [{"filter": "datum.kind == 'left'"}],
      "mark": {"type": "text", "fontSize": 20, "fill": "#111111", "align": "left", "baseline": "middle"},
      "encoding": {"text": {"field": "t"}}
    },
    {
      "data": {"name": "texts"},
      "transform": [{"filter": "datum.kind == 'right'"}],
      "mark": {"type": "text", "fontSize": 18.5, "fill": "#111111", "align": "left", "baseline": "middle"},
      "encoding": {"text": {"field": "t"}}
    },
    {
      "data": {"name": "notes"},
      "transform": [{"filter": "datum.kind == 'head'"}],
      "mark": {"type": "text", "fontSize": 18.5, "fontWeight": "bold", "align": "left", "baseline": "middle"},
      "encoding": {"text": {"field": "t"}, "color": {"field": "src", "type": "nominal", "legend": null}}
    },
    {
      "data": {"name": "notes"},
      "transform": [{"filter": "datum.kind == 'body'"}],
      "mark": {"type": "text", "fontSize": 18.5, "align": "left", "baseline": "middle"},
      "encoding": {"text": {"field": "t"}, "color": {"field": "src", "type": "nominal", "legend": null}}
    }
  ]
}
